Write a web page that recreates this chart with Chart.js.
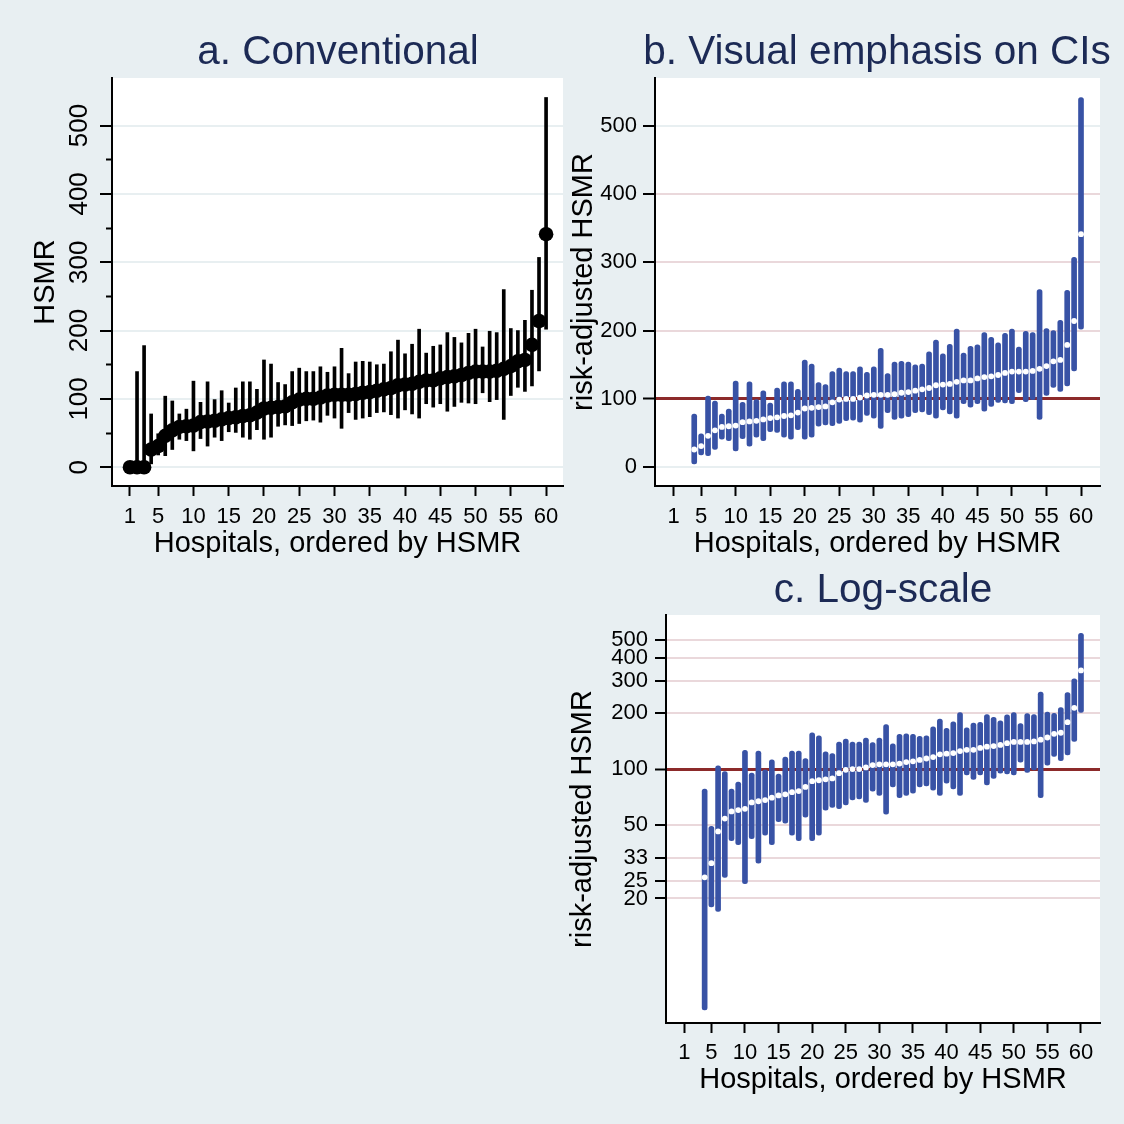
<!DOCTYPE html>
<html><head><meta charset="utf-8">
<script src="https://cdn.jsdelivr.net/npm/chart.js@4"></script>
<style>
html,body{margin:0;padding:0;background:#e8eff2;}
#wrap{position:relative;width:1124px;height:1124px;overflow:hidden;background:#e8eff2;}
canvas{position:absolute;left:0;top:0;}
.ttl{position:absolute;width:800px;text-align:center;font-family:'Liberation Sans',Arial,Helvetica,sans-serif;font-size:40.5px;line-height:48px;color:#1c2a55;white-space:nowrap;}
</style></head>
<body><div id="wrap">
<canvas id="ca" width="1124" height="1124"></canvas>
<canvas id="cb" width="1124" height="1124"></canvas>
<canvas id="cc" width="1124" height="1124"></canvas>
<div class="ttl" style="left:-62px;top:26px">a. Conventional</div>
<div class="ttl" style="left:477px;top:26px">b. Visual emphasis on CIs</div>
<div class="ttl" style="left:483px;top:564px">c. Log-scale</div>
</div>
<script>
// ---- data ----
const hospitals = [1,2,3,4,5,6,7,8,9,10,11,12,13,14,15,16,17,18,19,20,21,22,23,24,25,26,27,28,29,30,31,32,33,34,35,36,37,38,39,40,41,42,43,44,45,46,47,48,49,50,51,52,53,54,55,56,57,58,59,60];
const hsmr    = [0,0,0,26,31,46,54,59,60,61,66,67,68,70,72,73,75,76,80,86,87,88,89,95,99,100,100,102,105,106,106,106,107,109,110,112,114,116,120,121,122,125,127,127,130,132,133,135,138,140,140,140,141,144,148,155,157,179,214,341];
const ciLower = [0,0,0,5,18,17,26,41,39,24,42,31,44,39,52,51,44,41,55,41,44,60,62,61,64,68,69,66,76,72,57,80,70,72,74,80,81,77,72,84,78,72,93,88,93,82,89,95,94,93,109,96,99,70,105,117,111,119,141,202];
const ciUpper = [8,140,178,78,49,104,97,78,85,126,95,125,99,112,94,116,125,125,114,157,151,124,121,140,145,140,140,147,139,147,174,137,154,155,154,150,151,169,186,166,180,202,167,177,179,197,190,182,196,202,176,199,197,260,203,200,215,259,307,541];
const xTickValues = [1,5,10,15,20,25,30,35,40,45,50,55,60];
const linTickValues = [0,100,200,300,400,500];
const minorTickValues = [50,150,250,350,450];
const logTickValues = [20,25,33,50,100,200,300,400,500];

// ---- styles ----
const FONT = "'Liberation Sans', Arial, Helvetica, sans-serif";
const BLUE = 'rgb(56,82,165)';
const RED = 'rgb(140,42,42)';
const PINK = 'rgb(234,216,219)';
const LIGHT = 'rgb(232,239,241)';
Chart.defaults.font.family = FONT;
Chart.defaults.color = '#000';

const whiteArea = {id:'whiteArea', beforeDraw(chart){
  const {ctx, chartArea:a} = chart;
  ctx.save(); ctx.fillStyle = '#fff';
  ctx.fillRect(a.left, a.top, a.right - a.left, a.bottom - a.top);
  ctx.restore();
}};

function xAxis(min, max, h, tickPad, titlePad){
  return {type:'linear', position:'bottom', min, max, offset:false,
    afterBuildTicks: s => { s.ticks = xTickValues.map(v => ({value:v})); },
    afterFit: s => { s.height = h; },
    grid:{offset:false, drawOnChartArea:false, drawTicks:true, tickLength:10, tickColor:'#000', tickWidth:2},
    border:{display:true, color:'#000', width:2},
    ticks:{font:{size:22}, color:'#000', padding:tickPad, autoSkip:false, maxRotation:0, minRotation:0},
    title:{display:true, text:'Hospitals, ordered by HSMR', font:{size:29}, color:'#000', padding:{top:0, bottom:titlePad}}
  };
}
const baseOpts = {responsive:false, animation:false, events:[],
  plugins:{legend:{display:false}, tooltip:{enabled:false}, title:{display:false}}};

// ---- panel a ----
const ptsA = hospitals.map((h,i) => ({x:h, y:hsmr[i]}));
const ciA = hospitals.map((h,i) => ({x:h, y:[ciLower[i], ciUpper[i]]}));
new Chart(document.getElementById('ca'), {
  type:'bar',
  data:{datasets:[
    {type:'line', data:ptsA, showLine:false, pointRadius:7.3, pointBackgroundColor:'#000', pointBorderWidth:0, order:0},
    {type:'bar', data:ciA, backgroundColor:'#000', barThickness:3, order:1}
  ]},
  options:Object.assign({}, baseOpts, {
    layout:{padding:{left:0, top:78, right:561, bottom:558}},
    scales:{
      x: xAxis(-1.55, 62.4, 80, 8, 5),
      y: {type:'linear', position:'left', weight:1, min:-27.4, max:569.5,
        afterBuildTicks: s => { s.ticks = linTickValues.map(v => ({value:v})); },
        afterFit: s => { s.width = 112; },
        grid:{drawOnChartArea:true, color:LIGHT, lineWidth:2, tickLength:12, tickColor:'#000', tickWidth:2},
        border:{display:true, color:'#000', width:2},
        ticks:{font:{size:26}, color:'#000', padding:-2, minRotation:90, maxRotation:90, crossAlign:'center'},
        title:{display:true, text:'HSMR', font:{size:29}, color:'#000', padding:{top:29, bottom:0}}
      },
      y2: {type:'linear', position:'left', weight:0, min:-27.4, max:569.5,
        afterBuildTicks: s => { s.ticks = minorTickValues.map(v => ({value:v})); },
        afterFit: s => { s.width = 0; },
        ticks:{display:false},
        grid:{drawOnChartArea:false, tickLength:6, tickColor:'#000', tickWidth:2},
        border:{display:false}, title:{display:false}
      }
    }
  }),
  plugins:[whiteArea]
});

// ---- panels b and c (hospitals with HSMR > 0) ----
const keep = hospitals.map((h,i) => i).filter(i => hsmr[i] > 0);
const ptsB = keep.map(i => ({x:hospitals[i], y:hsmr[i]}));
const ciB = keep.map(i => ({x:hospitals[i], y:[ciLower[i], ciUpper[i]]}));

function dsBC(){
  return [
    {type:'line', data:ptsB, showLine:false, pointRadius:2.9, pointBackgroundColor:'#fff', pointBorderWidth:0, order:0},
    {type:'bar', data:ciB, backgroundColor:BLUE, barThickness:5, borderRadius:2.5, borderSkipped:false, order:1}
  ];
}

new Chart(document.getElementById('cb'), {
  type:'bar',
  data:{datasets:dsBC()},
  options:Object.assign({}, baseOpts, {
    layout:{padding:{left:560, top:78, right:24, bottom:558}},
    scales:{
      x: xAxis(-1.68, 62.75, 80, 8, 5),
      y: {type:'linear', position:'left', min:-27.4, max:569.5,
        afterBuildTicks: s => { s.ticks = linTickValues.map(v => ({value:v})); },
        afterFit: s => { s.width = 95; },
        grid:{drawOnChartArea:true,
          color: c => c.tick.value === 100 ? RED : ((c.tick.value === 0 || c.tick.value === 500) ? LIGHT : PINK),
          lineWidth: c => c.tick.value === 100 ? 3 : 2,
          tickLength:12, tickColor:'#000', tickWidth:2},
        border:{display:true, color:'#000', width:2},
        ticks:{font:{size:22}, color:'#000', padding:6},
        title:{display:true, text:'risk-adjusted HSMR', font:{size:29}, color:'#000', padding:{top:7, bottom:0}}
      }
    }
  }),
  plugins:[whiteArea]
});

new Chart(document.getElementById('cc'), {
  type:'bar',
  data:{datasets:dsBC()},
  options:Object.assign({}, baseOpts, {
    layout:{padding:{left:560, top:615, right:24, bottom:21}},
    scales:{
      x: xAxis(-1.75, 62.83, 80, 7, 6),
      y: {type:'logarithmic', position:'left', min:4.25, max:679,
        afterBuildTicks: s => { s.ticks = logTickValues.map(v => ({value:v})); },
        afterFit: s => { s.width = 106; },
        grid:{drawOnChartArea:true,
          color: c => c.tick.value === 100 ? RED : PINK,
          lineWidth: c => c.tick.value === 100 ? 3 : 2,
          tickLength:11, tickColor:'#000', tickWidth:2},
        border:{display:true, color:'#000', width:2},
        ticks:{font:{size:22}, color:'#000', padding:7, callback: v => String(v)},
        title:{display:true, text:'risk-adjusted HSMR', font:{size:29}, color:'#000', padding:{top:6, bottom:0}}
      }
    }
  }),
  plugins:[whiteArea]
});
</script>
</body></html>
